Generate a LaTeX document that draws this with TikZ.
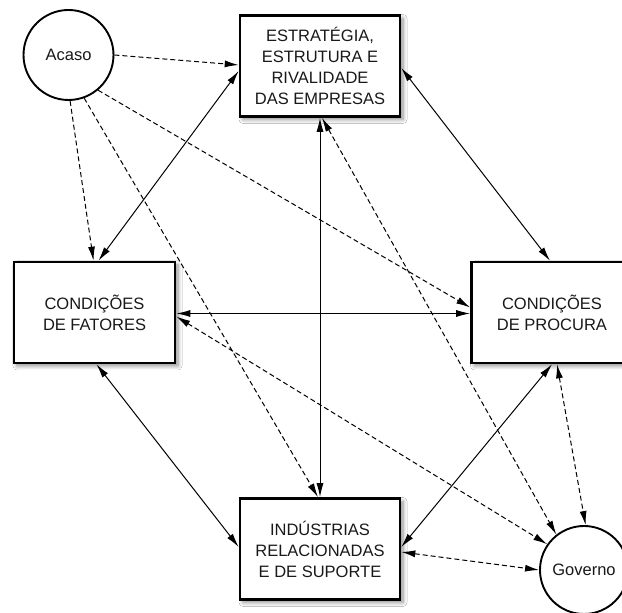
\documentclass[tikz,border=0pt]{standalone}
\usepackage{fontspec}
\setmainfont{Liberation Sans}
\usetikzlibrary{arrows.meta,shadows.blur}
\begin{document}
\begin{tikzpicture}[x=1pt,y=1pt,
  box/.style={draw=black, line width=2.6pt, fill=white, minimum width=160pt, minimum height=101pt,
    align=center, font=\fontsize{16.5}{21}\selectfont, text=black!90, inner sep=0pt,
    blur shadow={shadow xshift=3pt, shadow yshift=-3pt, shadow blur steps=6, shadow blur radius=4pt, shadow opacity=45}},
  circ/.style={draw=black, line width=1.9pt, fill=white, circle, inner sep=0pt,
    font=\fontsize{16.5}{19}\selectfont, text=black!90},
  tipL/.tip={Latex[length=14pt,width=7pt]},
  sol/.style={line width=1pt, tipL-tipL},
  dsh/.style={line width=1pt, dash pattern=on 5pt off 3pt, -tipL},
  ddsh/.style={line width=1pt, dash pattern=on 5pt off 3pt, tipL-tipL}
]
\clip (0,0) rectangle (622,613);
\fill[white] (0,0) rectangle (622,613);

\node[circ, minimum size=90pt] (acaso) at (68.5,558) {Acaso};
\node[box] (top) at (320,547) {ESTRATÉGIA,\\ESTRUTURA E\\RIVALIDADE\\DAS EMPRESAS};
\node[box, minimum width=161pt] (left) at (94.5,300.5) {CONDIÇÕES\\DE FATORES};
\node[box, minimum width=161pt] (right) at (552,300.5) {CONDIÇÕES\\DE PROCURA};
\node[box] (bottom) at (320,64) {INDÚSTRIAS\\RELACIONADAS\\E DE SUPORTE};
\node[circ, minimum size=88pt] (governo) at (584,43) {Governo};

% solid double arrows
\draw[sol] ([yshift=-5pt]top.west) -- ([xshift=4pt]left.north);
\draw[sol] ([yshift=-2pt]top.east) -- ([xshift=-2pt]right.north);
\draw[sol] (top.south) -- (bottom.north);
\draw[sol] ([yshift=-1pt]left.east) -- ([yshift=-1pt]right.west);
\draw[sol] ([xshift=2pt]left.south) -- ([yshift=2pt]bottom.west);
\draw[sol] (right.south) -- ([yshift=2pt]bottom.east);

% dashed from Acaso
\draw[dsh] (acaso.east) -- ([yshift=1pt]top.west);
\draw[dsh] (acaso.-88) -- ([xshift=-1pt]left.north);
\draw[dsh] (acaso.-70) -- ([xshift=-2pt]bottom.north);
\draw[dsh] (acaso.-50) -- ([yshift=5pt]right.west);

% dashed to/from Governo
\draw[ddsh] ([xshift=2pt]top.south) -- (governo.128);
\draw[ddsh] ([yshift=-4pt]left.east) -- (governo.145);
\draw[ddsh] ([xshift=5pt]right.south) -- (governo.88);
\draw[ddsh] ([yshift=-3pt]bottom.east) -- (governo.west);
\end{tikzpicture}
\end{document}
